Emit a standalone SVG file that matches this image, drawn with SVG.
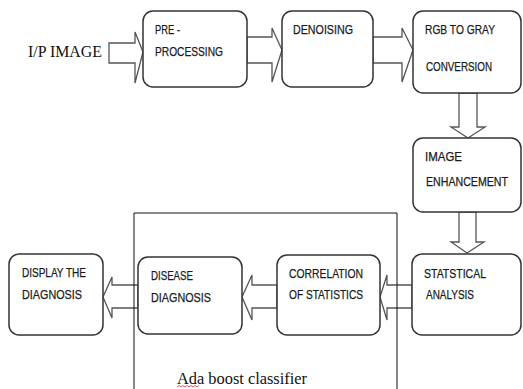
<svg xmlns="http://www.w3.org/2000/svg" width="523" height="389" viewBox="0 0 523 389">
<style>
.box{fill:#fff;stroke:#333;stroke-width:1.5}
.arr{fill:#fff;stroke:#555;stroke-width:1.3;stroke-linejoin:miter}
.t{font-family:"Liberation Sans",Arial,sans-serif;font-size:13px;fill:#1a1a1a;stroke:#1a1a1a;stroke-width:0.25}
.s{font-family:"Liberation Serif","Times New Roman",serif;fill:#111}
.frame{fill:none;stroke:#111;stroke-width:1}
</style>
<rect width="523" height="389" fill="#fff"/>
<g id="connectors">
<polygon class="arr" points="109,43 135,43 135,32 143,52 135,83 135,63 109,63"/>
<polygon class="arr" points="247,37 272,37 272,28 282,50 272,82 272,63 247,63"/>
<polygon class="arr" points="373,37 402,37 402,28 413,50 402,82 402,63 373,63"/>
<polygon class="arr" points="459,93 477,93 477,127 485,127 468,138 451,127 459,127"/>
<polygon class="arr" points="459,212 476,212 476,242 484,242 467,253 451,242 459,242"/>
<polygon class="arr" points="412,285 387,285 387,275 380,297 387,320 387,308 412,308"/>
<polygon class="arr" points="277,285 252,285 252,275 242,297 252,320 252,308 277,308"/>
<polygon class="arr" points="138,285 112,285 112,277 103,297 112,318 112,308 138,308"/>
</g>
<g id="adaboost-frame">
<polyline class="frame" points="134,389 134,213 397,213 397,389"/>
<text class="s" x="177" y="384" font-size="16" textLength="130" lengthAdjust="spacingAndGlyphs">Ada boost classifier</text>
<path d="M177,387 l2,-1.5 l2,1.5 l2,-1.5 l2,1.5 l2,-1.5 l2,1.5 l2,-1.5 l2,1.5 l2,-1.5 l2,1.5 l2,-1.5" fill="none" stroke="#d33" stroke-width="0.8"/>
</g>
<g id="input">
<text class="s" x="28" y="57" font-size="17" textLength="74" lengthAdjust="spacingAndGlyphs">I/P IMAGE</text>
</g>
<g id="preprocessing">
<rect class="box" x="143" y="11" width="104" height="76" rx="10"/>
<text class="t" x="155" y="34" textLength="25" lengthAdjust="spacingAndGlyphs">PRE -</text>
<text class="t" x="155" y="56" textLength="68" lengthAdjust="spacingAndGlyphs">PROCESSING</text>
</g>
<g id="denoising">
<rect class="box" x="282" y="11" width="91" height="76" rx="10"/>
<text class="t" x="293" y="34" textLength="60" lengthAdjust="spacingAndGlyphs">DENOISING</text>
</g>
<g id="rgb2gray">
<rect class="box" x="413" y="11" width="108" height="82" rx="10"/>
<text class="t" x="425" y="34" textLength="70" lengthAdjust="spacingAndGlyphs">RGB TO GRAY</text>
<text class="t" x="426" y="71" textLength="66" lengthAdjust="spacingAndGlyphs">CONVERSION</text>
</g>
<g id="enhancement">
<rect class="box" x="413" y="138" width="108" height="74" rx="10"/>
<text class="t" x="425" y="161" textLength="37" lengthAdjust="spacingAndGlyphs">IMAGE</text>
<text class="t" x="426" y="186" font-size="11.5" textLength="82" lengthAdjust="spacingAndGlyphs">ENHANCEMENT</text>
</g>
<g id="statistical">
<rect class="box" x="412" y="254" width="109" height="81" rx="10"/>
<text class="t" x="424" y="278" textLength="62" lengthAdjust="spacingAndGlyphs">STATSTICAL</text>
<text class="t" x="426" y="299" textLength="48" lengthAdjust="spacingAndGlyphs">ANALYSIS</text>
</g>
<g id="correlation">
<rect class="box" x="277" y="255" width="103" height="80" rx="10"/>
<text class="t" x="289" y="278" textLength="74" lengthAdjust="spacingAndGlyphs">CORRELATION</text>
<text class="t" x="289" y="299" textLength="74" lengthAdjust="spacingAndGlyphs">OF STATISTICS</text>
</g>
<g id="disease">
<rect class="box" x="138" y="257" width="104" height="77" rx="10"/>
<text class="t" x="151" y="280" textLength="42" lengthAdjust="spacingAndGlyphs">DISEASE</text>
<text class="t" x="151" y="302" textLength="60" lengthAdjust="spacingAndGlyphs">DIAGNOSIS</text>
</g>
<g id="display">
<rect class="box" x="9" y="254" width="94" height="81" rx="10"/>
<text class="t" x="22" y="277" textLength="64" lengthAdjust="spacingAndGlyphs">DISPLAY THE</text>
<text class="t" x="22" y="299" textLength="60" lengthAdjust="spacingAndGlyphs">DIAGNOSIS</text>
</g>
</svg>
